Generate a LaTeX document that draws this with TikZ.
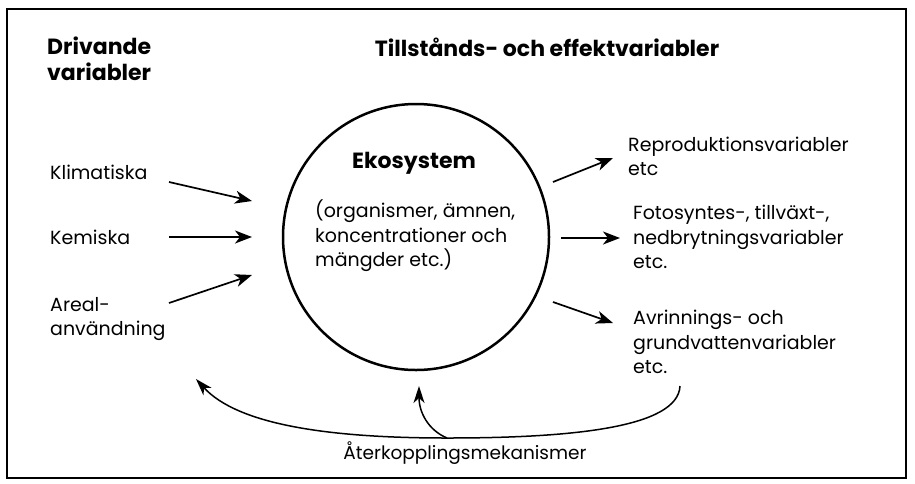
\documentclass[tikz,border=0pt]{standalone}
\usepackage{fontspec}
\setmainfont{Poppins}
\usetikzlibrary{arrows.meta}
\begin{document}
\begin{tikzpicture}[x=1pt,y=-1pt,
  lbl/.style={anchor=west,align=left,font=\fontsize{19}{24.5}\selectfont,inner sep=0pt},
  head/.style={font=\fontsize{22}{26}\selectfont\bfseries,inner sep=0pt},
  arr/.style={line width=1.7pt,-{Stealth[length=17pt,width=13pt,inset=5pt]}},
  fb/.style={line width=1.5pt,-{Stealth[length=17pt,width=11pt,inset=5pt]}}]
\useasboundingbox (0,0) rectangle (915,483);
\draw[line width=2pt] (7,8.5) rectangle (906,478);
\node[head,anchor=west,align=left] (drv) at (47,59) {Drivande\\variabler};
\node[head] (till) at (547,47) {Tillstånds- och effektvariabler};
\node[lbl] (klim) at (50,172) {Klimatiska};
\node[lbl] (kem) at (50,237) {Kemiska};
\node[lbl] (areal) at (50,319) {Areal-\\användning};
\node[draw,circle,line width=2.5pt,minimum size=266pt,inner sep=0pt] (eko) at (416,237) {};
\node[font=\fontsize{22}{24}\selectfont\bfseries,inner sep=0pt] (ekot) at (414,163) {Ekosystem};
\node[lbl] (org) at (315,236) {(organismer, ämnen,\\koncentrationer och\\mängder etc.)};
\node[lbl] (rep) at (628,156.5) {Reproduktionsvariabler\\etc};
\node[lbl] (foto) at (633,237) {Fotosyntes-, tillväxt-,\\nedbrytningsvariabler\\etc.};
\node[lbl] (avr) at (633,342) {Avrinnings- och\\grundvattenvariabler\\etc.};
\node[font=\fontsize{18.5}{20}\selectfont,inner sep=0pt] (ater) at (465,453) {Återkopplingsmekanismer};
\coordinate (k1) at (169,182); \coordinate (k2) at (252,201);
\coordinate (m1) at (169,237); \coordinate (m2) at (252,237);
\coordinate (a1) at (169,303); \coordinate (a2) at (252,275);
\coordinate (r1) at (553,182); \coordinate (r2) at (613,158);
\coordinate (f1) at (561,238); \coordinate (f2) at (620,238);
\coordinate (v1) at (553,302); \coordinate (v2) at (613,323);
\draw[arr] (k1) -- (k2);
\draw[arr] (m1) -- (m2);
\draw[arr] (a1) -- (a2);
\draw[arr] (r1) -- (r2);
\draw[arr] (f1) -- (f2);
\draw[arr] (v1) -- (v2);
\coordinate (fs) at (680,386);
\coordinate (fm) at (447,438);
\coordinate (fl) at (196,379);
\coordinate (fu) at (419,386);
\draw[fb] (fs) .. controls (678,428) and (570,438) .. (fm) .. controls (330,438) and (238,425) .. (fl);
\draw[fb] (fm) .. controls (428,430) and (419,412) .. (fu);
\end{tikzpicture}
\end{document}
